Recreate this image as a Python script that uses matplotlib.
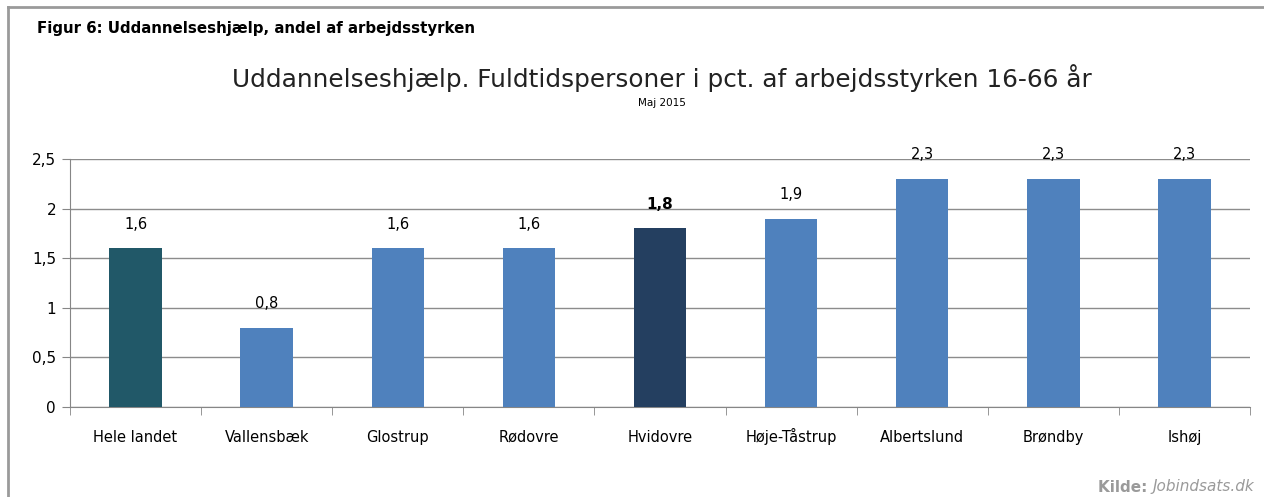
import matplotlib.pyplot as plt
from matplotlib.lines import Line2D

plt.rcParams['font.family'] = ['DejaVu Sans']

# data
categories = ['Hele landet', 'Vallensbæk', 'Glostrup', 'Rødovre', 'Hvidovre',
              'Høje-Tåstrup', 'Albertslund', 'Brøndby', 'Ishøj']
values = [1.6, 0.8, 1.6, 1.6, 1.8, 1.9, 2.3, 2.3, 2.3]
value_labels = ['1,6', '0,8', '1,6', '1,6', '1,8', '1,9', '2,3', '2,3', '2,3']
yticks = [0, 0.5, 1, 1.5, 2, 2.5]
ytick_labels = ['0', '0,5', '1', '1,5', '2', '2,5']

colors = ['#4F81BD'] * len(categories)
colors[0] = '#215868'
colors[4] = '#243F60'

fig = plt.figure(figsize=(12.64, 4.97), dpi=100)
W, H = 1264, 497

# outer frame (only top and left visible)
fig.add_artist(Line2D([8 / W, 8 / W], [0, 1 - 7 / H], color='#9a9a9a', lw=2))
fig.add_artist(Line2D([8 / W, 1], [1 - 7 / H, 1 - 7 / H], color='#9a9a9a', lw=2))

ax = fig.add_axes([70 / W, 1 - 407 / H, (1250 - 70) / W, (407 - 159) / H])
x = range(len(categories))
ax.bar(x, values, width=0.4, color=colors, zorder=3)

ax.set_xlim(-0.5, len(categories) - 0.5)
ax.set_ylim(0, 2.5)
ax.set_yticks(yticks)
ax.set_yticklabels(ytick_labels, fontsize=11)
ax.set_xticks(list(x))
ax.set_xticklabels(categories, fontsize=10.5)
for lbl in ax.get_xticklabels():
    lbl.set_va('baseline')
ax.tick_params(axis='x', length=0, pad=25)
ax.tick_params(axis='y', length=6, color='#868686', pad=4)
ax.set_xticks([i + 0.5 for i in range(-1, len(categories))], minor=True)
ax.tick_params(axis='x', which='minor', length=6, color='#868686')
ax.grid(axis='y', color='#8c8c8c', lw=1, zorder=0)
for s in ['top', 'right']:
    ax.spines[s].set_visible(False)
for s in ['left', 'bottom']:
    ax.spines[s].set_color('#868686')

for i, (v, lab) in enumerate(zip(values, value_labels)):
    bold = i == 4
    ax.annotate(lab, (i, v), xytext=(0, 12), textcoords='offset points',
                ha='center', va='bottom', fontsize=11 if bold else 10.5,
                fontweight='bold' if bold else 'normal', zorder=4)

fig.text(37 / W, 1 - 28 / H, 'Figur 6: Uddannelseshjælp, andel af arbejdsstyrken',
         fontsize=10.8, fontweight='bold', va='center', ha='left')
fig.text(662 / W, 1 - 78 / H,
         'Uddannelseshjælp. Fuldtidspersoner i pct. af arbejdsstyrken 16-66 år',
         fontsize=17.8, va='center', ha='center', color='#222222')
fig.text(662 / W, 1 - 103 / H, 'Maj 2015', fontsize=7.5, va='center', ha='center')
fig.text(1153 / W, 1 - 487 / H, 'Kilde: ', fontsize=11, fontweight='bold',
         color='#9a9a9a', va='center', ha='right')
fig.text(1153 / W, 1 - 487 / H, 'Jobindsats.dk', fontsize=11, style='italic',
         color='#9a9a9a', va='center', ha='left')

fig.savefig('out.png', dpi=100)
